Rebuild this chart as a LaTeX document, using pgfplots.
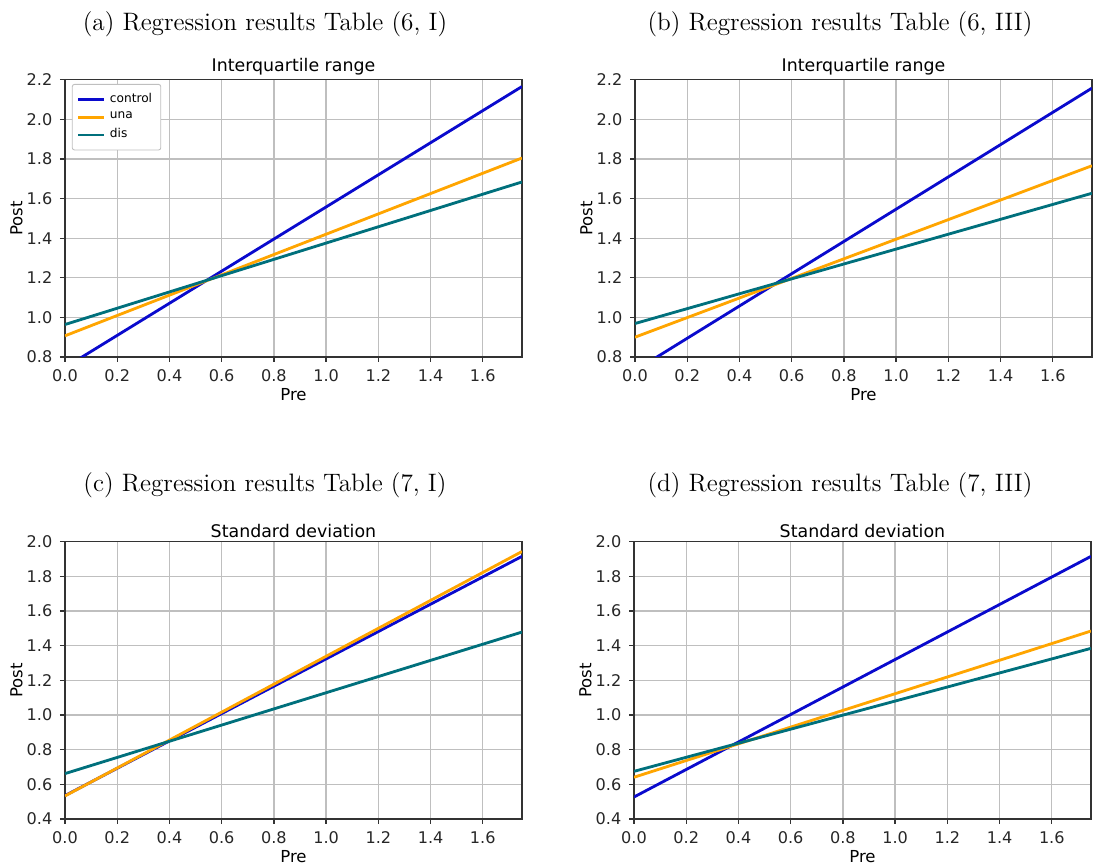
\documentclass[border=0pt]{standalone}
\usepackage{fontspec}
\usepackage{pgfplots}
\pgfplotsset{compat=1.18}
\newfontfamily\dv{DejaVu Sans}
\definecolor{ctrl}{HTML}{0A0ACD}
\definecolor{una}{HTML}{FFA500}
\definecolor{dis}{HTML}{00707C}

\pgfplotsset{
  panel/.style={
    scale only axis, width=210.2pt, height=127.5pt, anchor=south west,
    xmin=0, xmax=1.75,
    xtick={0,0.2,0.4,0.6,0.8,1.0,1.2,1.4,1.6},
    grid=major, grid style={color=black!25, line width=0.6pt},
    axis line style={black!80, line width=0.6pt},
    tick align=outside, major tick length=2.3pt,
    tick style={black!80, line width=0.6pt},
    xtick pos=bottom, ytick pos=left,
    /pgf/number format/.cd, fixed, fixed zerofill, precision=1, assume math mode=true, /pgfplots/.cd,
    ticklabel style={font=\dv\fontsize{7.4}{8}\selectfont, text=black!85},
    title style={font=\dv\fontsize{8}{9}\selectfont, yshift=-7.5pt},
    label style={font=\dv\fontsize{7.6}{9}\selectfont},
    xlabel={Pre}, ylabel={Post},
    xlabel style={yshift=4pt},
    ylabel style={yshift=-5pt},
    every axis plot/.append style={line width=1.3pt},
    clip=true,
  },
}

\begin{document}
\begin{tikzpicture}
\useasboundingbox (0,0) rectangle (504.16pt,399.28pt);

\node[font=\fontsize{11.6}{13}\selectfont] at (121.9pt,388.2pt) {(a) Regression results Table (6, I)};
\node[font=\fontsize{11.6}{13}\selectfont] at (386.4pt,388.2pt) {(b) Regression results Table (6, III)};
\node[font=\fontsize{11.6}{13}\selectfont] at (121.9pt,176.1pt) {(c) Regression results Table (7, I)};
\node[font=\fontsize{11.6}{13}\selectfont] at (386.4pt,176.1pt) {(d) Regression results Table (7, III)};

% (a)
\begin{axis}[panel, at={(29.9pt,235.06pt)}, ymin=0.8, ymax=2.2,
  ytick={0.8,1.0,1.2,1.4,1.6,1.8,2.0,2.2}, title={Interquartile range},
  legend style={at={(0.015,0.985)}, anchor=north west, draw=black!25, rounded corners=1pt,
    font=\dv\fontsize{5.6}{7}\selectfont, row sep=-1pt, inner sep=2pt},
  legend cell align=left,
  legend image code/.code={\draw[#1] (0pt,0pt) -- (12pt,0pt);}]
\addplot[ctrl] coordinates {(0,0.747) (1.75,2.166)};
\addplot[una] coordinates {(0,0.907) (1.75,1.805)};
\addplot[dis] coordinates {(0,0.964) (1.75,1.684)};
\legend{control,una,dis}
\end{axis}

% (b)
\begin{axis}[panel, at={(292.1pt,235.06pt)}, ymin=0.8, ymax=2.2,
  ytick={0.8,1.0,1.2,1.4,1.6,1.8,2.0,2.2}, title={Interquartile range}]
\addplot[ctrl] coordinates {(0,0.7315) (1.75,2.158)};
\addplot[una] coordinates {(0,0.900) (1.75,1.766)};
\addplot[dis] coordinates {(0,0.969) (1.75,1.627)};
\end{axis}

% (c)
\begin{axis}[panel, at={(29.9pt,22.54pt)}, ymin=0.4, ymax=2.0,
  ytick={0.4,0.6,0.8,1.0,1.2,1.4,1.6,1.8,2.0}, title={Standard deviation}]
\addplot[ctrl] coordinates {(0,0.535) (1.75,1.916)};
\addplot[una] coordinates {(0,0.533) (1.75,1.944)};
\addplot[dis] coordinates {(0,0.662) (1.75,1.479)};
\end{axis}

% (d)
\begin{axis}[panel, at={(291.64pt,22.54pt)}, ymin=0.4, ymax=2.0,
  ytick={0.4,0.6,0.8,1.0,1.2,1.4,1.6,1.8,2.0}, title={Standard deviation}]
\addplot[ctrl] coordinates {(0,0.527) (1.75,1.916)};
\addplot[una] coordinates {(0,0.641) (1.75,1.485)};
\addplot[dis] coordinates {(0,0.675) (1.75,1.385)};
\end{axis}
\end{tikzpicture}
\end{document}
